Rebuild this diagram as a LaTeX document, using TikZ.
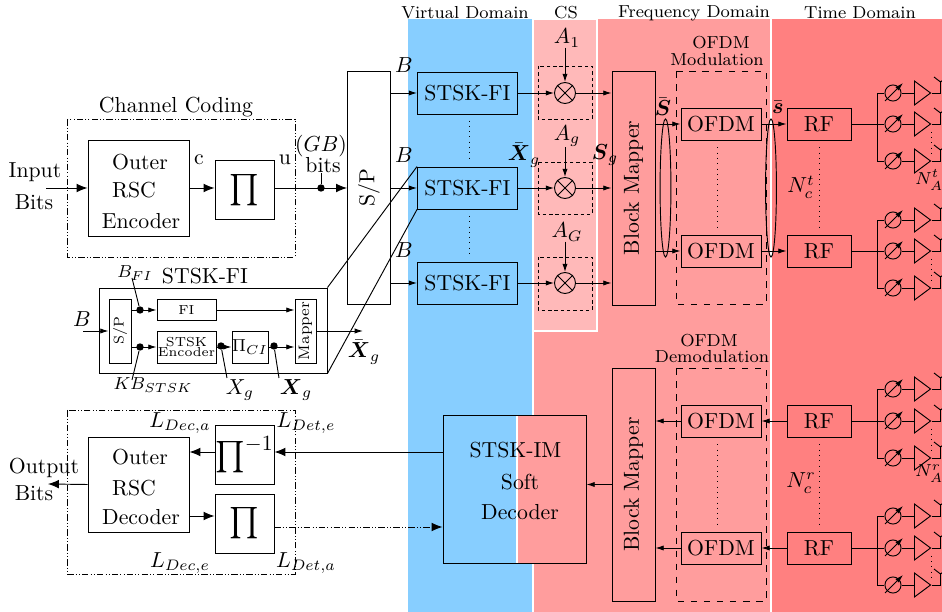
\documentclass[tikz,border=0pt]{standalone}
\usepackage{amsmath}
\usetikzlibrary{arrows.meta,shapes.geometric}

\definecolor{virtblue}{RGB}{135,206,255}
\definecolor{cspink}{RGB}{255,185,185}
\definecolor{freqpink}{RGB}{255,157,157}
\definecolor{timered}{RGB}{255,128,128}

\tikzset{
  bx/.style 2 args={draw,inner sep=0pt,minimum width=#1*0.46pt,minimum height=#2*0.46pt},
  lbl/.style={inner sep=0pt},
  hdr/.style={inner sep=0pt,font=\fontsize{8}{10}\selectfont},
  tiny box/.style={font=\fontsize{6}{6.5}\selectfont},
  arr/.style={-{Latex[length=5pt,width=4pt]}},
  arrs/.style={-{Latex[length=3.8pt,width=2.4pt]}},
  junc/.style={circle,fill=black,inner sep=0pt,minimum size=3.4pt},
  ddbox/.style={densely dash dot dot},
  mulbox/.style={dash pattern=on 1.6pt off 1.3pt},
  mult/.style={circle,draw,inner sep=0pt,minimum size=9.66pt},
  shifter/.style={circle,draw,inner sep=0pt,minimum size=7.4pt},
  amp/.style={isosceles triangle,isosceles triangle stretches,draw,inner sep=0pt,
    minimum width=11pt,minimum height=7.4pt,anchor=lower side},
}

\begin{document}
\begin{tikzpicture}[x=0.46pt,y=-0.46pt,line width=0.43pt]
  \useasboundingbox (0,0) rectangle (942,612);
  \clip (0,0) rectangle (942,612);

  % Domain backgrounds
  \fill[virtblue] (407,19) rectangle (533,612);
  \fill[freqpink] (533,19) rectangle (771,612);
  \fill[timered] (771,19) rectangle (942,612);
  \filldraw[fill=cspink,draw=white,line width=0.7pt] (533,19) rectangle (597,331);
  \draw[white,line width=0.7pt] (407,19) -- (407,612);
  \draw[white,line width=0.7pt] (533,331) -- (533,612);
  \draw[white,line width=0.7pt] (771,19) -- (771,612);

  \node[hdr] (hvirt) at (465,13) {Virtual Domain};
  \node[hdr] (hcs) at (566,13) {CS};
  \node[hdr] (hfreq) at (694,13) {Frequency Domain};
  \node[hdr] (htime) at (860,13) {Time Domain};

  % Channel coding
  \draw[ddbox] (67,119) rectangle (295,257);
  \node[lbl] (chcod) at (176,107) {Channel Coding};
  \node[bx={101}{96}] (enc) at (138.5,188) {};
  \node[lbl] (enca) at (140,162) {Outer};
  \node[lbl] (encb) at (134,190) {RSC};
  \node[lbl] (encc) at (141,221) {Encoder};
  \node[bx={59}{59}] (pia) at (244.5,190) {\Large$\prod$};
  \node[lbl] (ina) at (35,172) {Input};
  \node[lbl] (inb) at (34,202) {Bits};
  \coordinate (inp) at (46,188);
  \draw[arr] (inp) -- (enc.west);
  \draw[arr] (enc.east) -- (enc -| pia.west);
  \node[lbl] (cbit) at (199,160) {c};
  \node[lbl] (ubit) at (285,160) {u};

  % Serial to parallel
  \node[bx={43}{233}] (sp) at (369,188) {\rotatebox{90}{S/P}};
  \draw[arr] (enc -| pia.east) -- (enc -| sp.west);
  \node[junc] (djn) at (321,188) {};
  \node[lbl] (gb) at (321,146) {$(GB)$};
  \node[lbl] (gbb) at (323,165) {bits};
  \draw (djn) -- (gbb.south -| djn);

  % STSK-FI blocks
  \node[bx={100}{42}] (fia) at (467.5,93) {STSK-FI};
  \node[bx={100}{42}] (fib) at (467.5,188) {STSK-FI};
  \node[bx={100}{42}] (fic) at (467.5,283) {STSK-FI};
  \node[lbl] (ba) at (404,65) {$B$};
  \node[lbl] (bb) at (404,155) {$B$};
  \node[lbl] (bc) at (404,250) {$B$};
  \draw[arrs] (fia -| sp.east) -- (fia.west);
  \draw[arrs] (fib -| sp.east) -- (fib.west);
  \draw[arrs] (fic -| sp.east) -- (fic.west);
  \draw[dotted,shorten <=2.8pt,shorten >=3.7pt] ([xshift=1pt]fia.south) -- ([xshift=1pt]fib.north);
  \draw[dotted,shorten <=3pt,shorten >=3.7pt] ([xshift=1pt]fib.south) -- ([xshift=1pt]fic.north);
  \node[lbl] (xbara) at (524,155) {$\bar{\boldsymbol{X}}_g$};

  % Inside of one STSK-FI
  \node[bx={228}{85}] (pan) at (213,330.5) {};
  \node[lbl] (panl) at (205,276) {STSK-FI};
  \draw (pan.north east) -- (fib.north west);
  \draw (pan.south east) -- (fib.south west);
  \node[bx={22}{64},font=\fontsize{6.5}{7}\selectfont] (ssp) at (120,331) {\rotatebox{90}{S/P}};
  \node[bx={59}{21},tiny box] (fi) at (186.5,310) {FI};
  \node[bx={59}{32},tiny box,align=center] (stenc) at (186.5,347) {STSK\\[-1.5pt]Encoder};
  \node[bx={36}{32},font=\footnotesize] (picl) at (250,347) {$\Pi_{CI}$};
  \node[bx={21}{64},font=\scriptsize] (map) at (305.5,331) {\rotatebox{90}{Mapper}};
  \coordinate (bin) at (83,331);
  \coordinate (mout) at (363,331);
  \node[lbl] (bl) at (82,319) {$B$};
  \draw[arrs] (bin) -- (ssp.west);
  \draw[arrs] (fi -| ssp.east) -- (fi.west);
  \draw[arrs] (stenc -| ssp.east) -- (stenc.west);
  \draw[arrs] (fi.east) -- (fi -| map.west);
  \draw[arrs] (stenc.east) -- (picl.west);
  \draw[arrs] (picl.east) -- (picl -| map.west);
  \draw[arrs] (map.east) -- (mout);
  \node[junc] (dfi) at (140,310) {};
  \node[junc] (dkb) at (140,347) {};
  \node[junc] (dxa) at (221,346) {};
  \node[junc] (dxb) at (274,346) {};
  \node[lbl,font=\footnotesize] (bfi) at (135,273) {$B_{FI}$};
  \node[lbl,font=\footnotesize] (kbs) at (153,385) {$KB_{STSK}$};
  \node[lbl] (xga) at (240,390) {$X_g$};
  \node[lbl] (xgb) at (296,390) {$\boldsymbol{X}_g$};
  \node[lbl] (xbarb) at (364,352) {$\bar{\boldsymbol{X}}_g$};
  \coordinate (sfi) at (132,278);
  \coordinate (skb) at (132,380);
  \coordinate (sxa) at (227,378);
  \coordinate (sxb) at (279,378);
  \draw (dfi) -- (sfi);
  \draw (dkb) -- (skb);
  \draw (dxa) -- (sxa);
  \draw (dxb) -- (sxb);

  % CS multipliers
  \node[mult] (mula) at (565,93) {};
  \node[mult] (mulb) at (565,188) {};
  \node[mult] (mulc) at (565,283) {};
  \draw[mulbox] (538,66) rectangle (592,119);
  \draw[mulbox] (538,162) rectangle (592,214);
  \draw[mulbox] (538,257) rectangle (592,310);
  \draw (mula.north west) -- (mula.south east);
  \draw (mula.north east) -- (mula.south west);
  \draw (mulb.north west) -- (mulb.south east);
  \draw (mulb.north east) -- (mulb.south west);
  \draw (mulc.north west) -- (mulc.south east);
  \draw (mulc.north east) -- (mulc.south west);
  \node[lbl] (aa) at (567,38) {$A_1$};
  \node[lbl] (ab) at (567,136) {$A_g$};
  \node[lbl] (ac) at (567,232) {$A_G$};
  \draw[arrs] (aa.south -| mula) -- (mula.north);
  \draw[arrs] (ab.south -| mulb) -- (mulb.north);
  \draw[arrs] (ac.south -| mulc) -- (mulc.north);
  \draw[arrs] (fia.east) -- (mula.west);
  \draw[arrs] (fib.east) -- (mulb.west);
  \draw[arrs] (fic.east) -- (mulc.west);

  % Block mappers
  \node[bx={43}{234}] (bma) at (633.5,188) {\rotatebox{90}{Block Mapper}};
  \node[bx={43}{233}] (bmb) at (633.5,484.5) {\rotatebox{90}{Block Mapper}};
  \draw[arrs] (mula.east) -- (mula -| bma.west);
  \draw[arrs] (mulb.east) -- (mulb -| bma.west);
  \draw[arrs] (mulc.east) -- (mulc -| bma.west);
  \node[lbl] (sg) at (605,155) {$\boldsymbol{S}_g$};
  \node[lbl] (sbar) at (663,107) {$\bar{\boldsymbol{S}}$};

  % OFDM modulation
  \draw[dashed] (676,71) rectangle (766,304);
  \node[hdr] (moda) at (721,43) {OFDM};
  \node[hdr] (modb) at (717,60) {Modulation};
  \node[bx={80}{32}] (ofa) at (721,124) {OFDM};
  \node[bx={80}{32}] (ofb) at (721,251) {OFDM};
  \node[bx={64}{32}] (rfa) at (819,124) {RF};
  \node[bx={64}{32}] (rfb) at (819,251) {RF};
  \draw[arrs] (ofa -| bma.east) -- (ofa.west);
  \draw[arrs] (ofb -| bma.east) -- (ofb.west);
  \draw[arrs] (ofa.east) -- (rfa.west);
  \draw[arrs] (ofb.east) -- (rfb.west);
  \draw[dotted] ([xshift=-1.4pt,yshift=-3.2pt]ofa.south) -- ([xshift=-1.4pt,yshift=3.6pt]ofb.north);
  \draw[dotted] ([yshift=-3.2pt]rfa.south) -- ([yshift=3.6pt]rfb.north);
  \node[ellipse,draw,inner sep=0pt,minimum width=5pt,minimum height=63.5pt] (ela) at (665.5,188) {};
  \node[ellipse,draw,inner sep=0pt,minimum width=5pt,minimum height=63.5pt] (elb) at (771,188) {};
  \node[lbl] (sbarb) at (778,107) {$\bar{\boldsymbol{s}}$};
  \node[lbl] (nct) at (801,187) {$N_c^t$};

  % OFDM demodulation
  \draw[dashed] (676,368) rectangle (766,601);
  \node[hdr] (dema) at (709,341) {OFDM};
  \node[hdr] (demb) at (712,357) {Demodulation};
  \node[bx={80}{32}] (ofc) at (721,421) {OFDM};
  \node[bx={80}{32}] (ofd) at (721,548) {OFDM};
  \node[bx={64}{32}] (rfc) at (819,421) {RF};
  \node[bx={64}{32}] (rfd) at (819,548) {RF};
  \draw[arrs] (rfc.west) -- (ofc.east);
  \draw[arrs] (rfd.west) -- (ofd.east);
  \draw[arrs] (ofc.west) -- (ofc -| bmb.east);
  \draw[arrs] (ofd.west) -- (ofd -| bmb.east);
  \draw[dotted] ([xshift=-1.4pt,yshift=-3.2pt]ofc.south) -- ([xshift=-1.4pt,yshift=3.6pt]ofd.north);
  \draw[dotted] ([yshift=-3.2pt]rfc.south) -- ([yshift=3.6pt]rfd.north);
  \node[lbl] (ncr) at (801,483) {$N_c^r$};

  % Antenna rows
  \coordinate (trk) at (877,0);
  \foreach \y [count=\i] in {93,124,161,220,251,288,389,421,458,516,548,585} {
    \node[shifter] (ps\i) at (893,\y) {};
    \node[amp] (amp\i) at (914,\y) {};
    \coordinate (ant\i) at (940.5,\y);
    \coordinate (tipa\i) at (885,\y+8);
    \coordinate (tipb\i) at (903,\y-10);
    \coordinate (ante\i) at (940.5,\y-11);
    \coordinate (antl\i) at (934,\y-16);
    \coordinate (antr\i) at (947,\y-16);
    \draw[arrs] (tipa\i) -- (tipb\i);
    \draw (ps\i.east) -- (amp\i.lower side);
    \draw (amp\i.apex) -- (ant\i) -- (ante\i);
    \draw (antl\i) -- (ante\i) -- (antr\i);
  }
  \foreach \rf/\a/\b/\c in {rfa/1/2/3,rfb/4/5/6,rfc/7/8/9,rfd/10/11/12} {
    \draw (\rf.east) -- (ps\b.west);
    \draw (ps\a.west) -- (ps\a -| trk) -- (ps\c -| trk) -- (ps\c.west);
    \draw[dotted,shorten <=3.6pt,shorten >=2.6pt] (amp\b.apex) -- (amp\c.apex);
  }
  \node[lbl,font=\footnotesize,anchor=west] (nat) at (915,180) {$N^t_{AA}$};
  \node[lbl,font=\footnotesize,anchor=west] (nar) at (915,474) {$N^r_{AA}$};

  % Soft decoder
  \fill[freqpink] (517,415) rectangle (586,563);
  \draw[white,line width=0.5pt] (517,415) -- (517,563);
  \node[bx={143}{148}] (dec) at (514.5,489) {};
  \node[lbl] (deca) at (515.5,450) {STSK-IM};
  \node[lbl] (decb) at (520,482) {Soft};
  \node[lbl] (decc) at (520,512) {Decoder};
  \draw[arrs] (bmb.west) -- (bmb -| dec.east);

  % Channel decoding
  \draw[ddbox] (67,410) rectangle (295,574);
  \node[bx={101}{95}] (odec) at (138.5,484.5) {};
  \node[lbl] (odeca) at (140,457) {Outer};
  \node[lbl] (odecb) at (134,488) {RSC};
  \node[lbl] (odecc) at (141,517) {Decoder};
  \node[bx={59}{59}] (piv) at (244.5,454.5) {\Large$\prod^{-1}$};
  \node[bx={59}{59}] (pib) at (244.5,523.5) {\Large$\prod$};
  \coordinate (dout) at (443,452);
  \coordinate (pout) at (274,527);
  \coordinate (oout) at (189,516);
  \coordinate (obit) at (48,484);
  \draw[arr] (dout) -- (dout -| piv.east);
  \draw[arr] (dout -| piv.west) -- (dout -| odec.east);
  \draw[arr] (oout) -- (oout -| pib.west);
  \draw[arr,densely dash dot dot] (pout) -- (pout -| dec.west);
  \draw[arr] (odec.west) -- (obit);
  \node[lbl] (oua) at (44,468) {Output};
  \node[lbl] (oub) at (34,493) {Bits};
  \node[lbl] (ldea) at (180,423) {$L_{Dec,a}$};
  \node[lbl] (ldee) at (306,423) {$L_{Det,e}$};
  \node[lbl] (ldce) at (180,563) {$L_{Dec,e}$};
  \node[lbl] (ldta) at (306,563) {$L_{Det,a}$};
\end{tikzpicture}
\end{document}
